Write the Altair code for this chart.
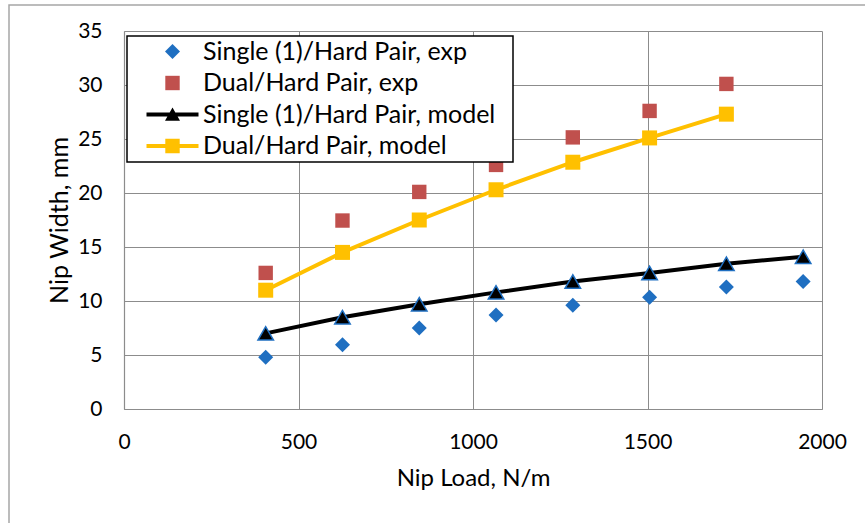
import altair as alt
import pandas as pd

# Nip load (N/m) at which the nip width was measured / modelled
nip_load = [406, 626, 846, 1066, 1286, 1506, 1726, 1946]
dual_load = nip_load[:7]

# Nip width (mm)
single_exp = [4.8, 5.95, 7.5, 8.7, 9.6, 10.35, 11.3, 11.8]
single_model = [7.0, 8.5, 9.7, 10.8, 11.8, 12.6, 13.45, 14.1]
dual_exp = [12.6, 17.45, 20.1, 22.6, 25.15, 27.6, 30.1]
dual_model = [11.0, 14.5, 17.5, 20.3, 22.85, 25.1, 27.3]

series_names = [
    "Single (1)/Hard Pair, exp",
    "Dual/Hard Pair, exp",
    "Single (1)/Hard Pair, model",
    "Dual/Hard Pair, model",
]
series_colors = ["#1F6FC1", "#C0504D", "#000000", "#FFC000"]

x_ticks = [0, 500, 1000, 1500, 2000]
y_ticks = [0, 5, 10, 15, 20, 25, 30, 35]

FONT = "Lato"
GRID = "#8C8C8C"

# Symbol paths; one unit is SYM / 2 px.
SYM = 20
diamond = "M0,-0.75L0.75,0L0,0.75L-0.75,0Z"
square = "M-0.72,-0.72H0.72V0.72H-0.72Z"
bar = "M-2.6,-0.2H2.6V0.2H-2.6Z"
# line + marker legend keys; the trailing move widens the legend box to the right
line_triangle = bar + "M0,-0.7L0.75,0.62L-0.75,0.62Z" + "M33.7,0"
line_square = bar + "M-0.72,-0.72H0.72V0.72H-0.72Z"
series_shapes = [diamond, square, line_triangle, line_square]

W, H = 698, 378

x_enc = alt.X(
    "load:Q",
    scale=alt.Scale(domain=[0, 2000], nice=False),
    axis=alt.Axis(
        values=x_ticks, format="d", grid=True, gridColor=GRID, gridWidth=1,
        domainColor=GRID, domainWidth=1.2, ticks=False, tickSize=0,
        labelFont=FONT, labelFontSize=21, labelColor="black",
        labelPadding=33, labelBaseline="middle", labelFlush=False,
        labelOverlap=False,
        title="Nip Load, N/m", titleFont=FONT, titleFontSize=24,
        titleFontWeight="normal", titleColor="black",
        titleX=W / 2, titleY=69, titleAlign="center", titleBaseline="middle",
    ),
)
y_enc = alt.Y(
    "width:Q",
    scale=alt.Scale(domain=[0, 35], nice=False),
    axis=alt.Axis(
        values=y_ticks, grid=True, gridColor=GRID, gridWidth=1,
        domainColor=GRID, domainWidth=1.2, ticks=False, tickSize=0,
        labelFont=FONT, labelFontSize=21, labelColor="black",
        labelPadding=22, labelFlush=False, labelOverlap=False,
        title="Nip Width, mm", titleFont=FONT, titleFontSize=25,
        titleFontWeight="normal", titleColor="black", titlePadding=5,
    ),
)

legend = alt.Legend(
    title=None, orient="none", legendX=3, legendY=5, padding=3,
    fillColor="white", strokeColor="black",
    symbolSize=SYM * SYM, symbolStrokeWidth=0, symbolOpacity=1,
    symbolOffset=30,
    labelFont=FONT, labelFontSize=25, labelColor="black",
    labelOffset=18, labelLimit=500, rowPadding=5.5,
)

exp_df = pd.DataFrame({
    "load": nip_load + dual_load,
    "width": single_exp + dual_exp,
    "series": [series_names[0]] * len(nip_load) + [series_names[1]] * len(dual_load),
})

# Outer chart frame
frame = alt.Chart(pd.DataFrame({"k": [0]})).mark_rect(
    fill="transparent", stroke="#A6A6A6", strokeWidth=1.5
).encode(
    x=alt.value(-115), x2=alt.value(W + 80), y=alt.value(-26), y2=alt.value(H + 130)
)

exp_points = alt.Chart(exp_df).mark_point(filled=True, size=SYM * SYM, opacity=1).encode(
    x=x_enc,
    y=y_enc,
    color=alt.Color("series:N", scale=alt.Scale(domain=series_names, range=series_colors), legend=legend),
    shape=alt.Shape("series:N", scale=alt.Scale(domain=series_names, range=series_shapes), legend=legend),
)

single_df = pd.DataFrame({"load": nip_load, "width": single_model})
dual_df = pd.DataFrame({"load": dual_load, "width": dual_model})

single_line = alt.Chart(single_df).mark_line(color="black", strokeWidth=4).encode(x="load:Q", y="width:Q")
single_pts = alt.Chart(single_df).mark_point(
    shape="triangle-up", filled=True, fill="black", stroke="#1F6FC1",
    strokeWidth=1.5, size=240, opacity=1
).encode(x="load:Q", y="width:Q")

dual_line = alt.Chart(dual_df).mark_line(color="#FFC000", strokeWidth=4).encode(x="load:Q", y="width:Q")
dual_pts = alt.Chart(dual_df).mark_point(
    shape="square", filled=True, fill="#FFC000", size=225, opacity=1
).encode(x="load:Q", y="width:Q")

chart = alt.layer(
    frame, exp_points, single_line, single_pts, dual_line, dual_pts
).properties(
    width=W, height=H,
    padding={"left": 124, "top": 31, "right": 865 - 124 - W, "bottom": 523 - 31 - H},
    autosize=alt.AutoSizeParams(type="none"),
    background="white",
).configure_view(stroke=None).configure_legend(strokeWidth=1.5)

chart.save("out.html", embed_options={"renderer": "svg", "actions": False})
